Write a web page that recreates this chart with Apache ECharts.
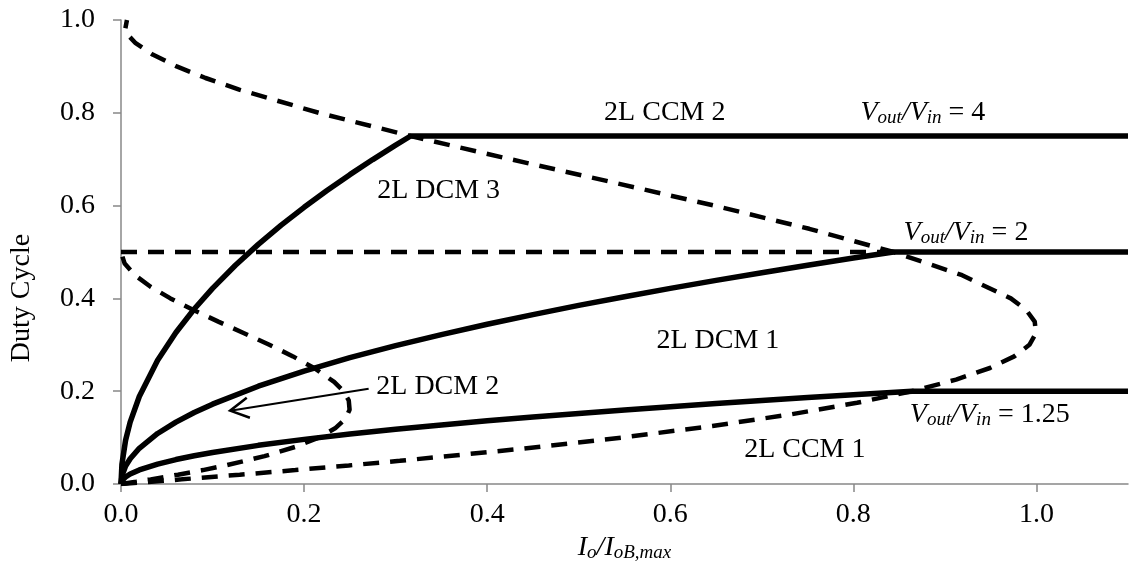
<!DOCTYPE html>
<html>
<head>
<meta charset="utf-8">
<script src="https://cdn.jsdelivr.net/npm/echarts@6/dist/echarts.min.js"></script>
<style>
html,body{margin:0;padding:0;background:#fff;}
#chart{width:1133px;height:569px;}
</style>
</head>
<body>
<div id="chart"></div>
<script>
// ---- data ----
const xTicks = [0, 0.2, 0.4, 0.6, 0.8, 1.0];
const yTicks = [0, 0.2, 0.4, 0.6, 0.8, 1.0];

// Large CCM/DCM boundary (dashed): duty cycle and normalized current
const boundaryD = [0, 0.005, 0.01, 0.02, 0.03, 0.04, 0.05, 0.075, 0.1, 0.125, 0.15, 0.175, 0.2, 0.225, 0.25, 0.275, 0.3, 0.325, 0.35, 0.375, 0.4, 0.45, 0.5, 0.55, 0.6, 0.65, 0.7, 0.75, 0.8, 0.85, 0.875, 0.9, 0.925, 0.95, 0.975, 1.0];
const boundaryI = [0, 0.0334, 0.0662, 0.1297, 0.1905, 0.2488, 0.3046, 0.4332, 0.5468, 0.646, 0.7315, 0.804, 0.864, 0.9122, 0.9492, 0.9757, 0.9923, 0.9995, 0.9981, 0.9888, 0.972, 0.9188, 0.8438, 0.7518, 0.648, 0.5375, 0.4253, 0.3164, 0.216, 0.1291, 0.0923, 0.0608, 0.0351, 0.016, 0.0041, 0.0065];

// Small DCM2 boundary (dashed)
const smallD = [0, 0.005, 0.01, 0.02, 0.03, 0.04, 0.06, 0.08, 0.1, 0.12, 0.14, 0.16, 0.18, 0.2, 0.22, 0.25, 0.275, 0.3, 0.325, 0.35, 0.375, 0.4, 0.425, 0.45, 0.475, 0.5];
const smallI = [0, 0.0165, 0.0324, 0.0622, 0.0895, 0.1143, 0.1568, 0.1905, 0.216, 0.2339, 0.2449, 0.2497, 0.2488, 0.243, 0.2328, 0.2109, 0.1879, 0.162, 0.1344, 0.1063, 0.0791, 0.054, 0.0323, 0.0152, 0.004, 0];

// Horizontal dashed line at D = 0.5
const halfI = [0, 0.8438];
const halfD = [0.5, 0.5];

// Vout/Vin = 4 (solid)
const m4I = [0, 0.001, 0.005, 0.01, 0.02, 0.04, 0.06, 0.08, 0.1, 0.125, 0.15, 0.175, 0.2, 0.225, 0.25, 0.275, 0.3, 0.3164, 1.1];
const m4D = [0, 0.0422, 0.0943, 0.1333, 0.1886, 0.2667, 0.3266, 0.3771, 0.4216, 0.4714, 0.5164, 0.5578, 0.5963, 0.6325, 0.6667, 0.6992, 0.7303, 0.75, 0.75];

// Vout/Vin = 2 (solid)
const m2I = [0, 0.001, 0.005, 0.01, 0.02, 0.04, 0.06, 0.08, 0.1, 0.15, 0.2, 0.25, 0.3, 0.35, 0.4, 0.45, 0.5, 0.55, 0.6, 0.65, 0.7, 0.75, 0.8, 0.8438, 1.1];
const m2D = [0, 0.0172, 0.0385, 0.0544, 0.077, 0.1089, 0.1333, 0.154, 0.1721, 0.2108, 0.2434, 0.2722, 0.2981, 0.322, 0.3443, 0.3651, 0.3849, 0.4037, 0.4216, 0.4389, 0.4554, 0.4714, 0.4869, 0.5, 0.5];

// Vout/Vin = 1.25 (solid)
const m125I = [0, 0.001, 0.005, 0.01, 0.02, 0.04, 0.06, 0.08, 0.1, 0.15, 0.2, 0.25, 0.3, 0.35, 0.4, 0.45, 0.5, 0.55, 0.6, 0.65, 0.7, 0.75, 0.8, 0.864, 1.1];
const m125D = [0, 0.0068, 0.0152, 0.0215, 0.0304, 0.043, 0.0527, 0.0609, 0.068, 0.0833, 0.0962, 0.1076, 0.1179, 0.1273, 0.1361, 0.1443, 0.1521, 0.1596, 0.1667, 0.1735, 0.18, 0.1863, 0.1925, 0.2, 0.2];

// Region / ratio annotations
const noteText = ['2L CCM 2', '2L DCM 3', 'ratio4', 'ratio2', '2L DCM 1', '2L DCM 2', 'ratio125', '2L CCM 1'];
const noteX = [0.594, 0.347, 0.876, 0.923, 0.652, 0.346, 0.949, 0.747];
const noteY = [0.80, 0.632, 0.80, 0.541, 0.31, 0.209, 0.149, 0.074];

// Arrow (from label to curve)
const arrowFrom = [0.2705, 0.2055];
const arrowTo = [0.1192, 0.158];

// ---- build ----
const FONT = 'Liberation Serif';
const zip = (xs, ys) => xs.map((v, i) => [v, ys[i]]);

const ratioRich = {
  v: {fontFamily: FONT, fontSize: 28, fontStyle: 'italic', color: '#000', lineHeight: 30},
  s: {fontFamily: FONT, fontSize: 19, fontStyle: 'italic', color: '#000', lineHeight: 14, verticalAlign: 'bottom'},
  n: {fontFamily: FONT, fontSize: 28, color: '#000', lineHeight: 30}
};
function noteFormatter(t) {
  if (t === 'ratio4') return '{v|V}{s|out}{v|/V}{s|in}{n| = 4}';
  if (t === 'ratio2') return '{v|V}{s|out}{v|/V}{s|in}{n| = 2}';
  if (t === 'ratio125') return '{v|V}{s|out}{v|/V}{s|in}{n| = 1.25}';
  return '{n|' + t + '}';
}

const dashedStyle = {color: '#000', width: 4.5, type: [16, 11]};
const solidStyle = {color: '#000', width: 5.5};

const lineSeries = (data, style) => ({
  type: 'line', data: data, showSymbol: false, symbol: 'none', smooth: false,
  lineStyle: style, silent: true, z: 2
});

const chart = echarts.init(document.getElementById('chart'), null, {renderer: 'canvas'});
chart.setOption({
  animation: false,
  backgroundColor: '#fff',
  grid: {left: 119, right: 5, top: 20, bottom: 85, containLabel: false},
  xAxis: {
    type: 'value', min: 0, max: 1.1,
    name: '{v|I}{s|o}{v|/I}{s|oB,max}',
    nameLocation: 'middle', nameGap: 48,
    nameTextStyle: {rich: ratioRich},
    axisLine: {show: true, lineStyle: {color: '#888', width: 1.5}},
    axisTick: {show: true, length: 8, lineStyle: {color: '#888', width: 1.5}, customValues: xTicks},
    axisLabel: {
      customValues: xTicks, margin: 17,
      fontFamily: FONT, fontSize: 28, color: '#000',
      formatter: v => v.toFixed(1)
    },
    splitLine: {show: false}
  },
  yAxis: {
    type: 'value', min: 0, max: 1.0, interval: 0.2,
    name: 'Duty Cycle', nameLocation: 'middle', nameGap: 85, nameRotate: 90,
    nameTextStyle: {fontFamily: FONT, fontSize: 28, color: '#000', padding: [0, 92, 0, 0]},
    axisLine: {show: true, lineStyle: {color: '#888', width: 1.5}},
    axisTick: {show: true, length: 8, lineStyle: {color: '#888', width: 1.5}, customValues: yTicks},
    axisLabel: {
      customValues: yTicks, margin: 26,
      fontFamily: FONT, fontSize: 28, color: '#000',
      formatter: v => v.toFixed(1)
    },
    splitLine: {show: false}
  },
  series: [
    lineSeries(zip(boundaryI, boundaryD), dashedStyle),
    lineSeries(zip(smallI, smallD), dashedStyle),
    lineSeries(zip(halfI, halfD), dashedStyle),
    lineSeries(zip(m4I, m4D), solidStyle),
    lineSeries(zip(m2I, m2D), solidStyle),
    lineSeries(zip(m125I, m125D), solidStyle),
    {
      type: 'custom', silent: true, z: 3,
      data: [[arrowFrom[0], arrowFrom[1], arrowTo[0], arrowTo[1]]],
      renderItem: function (params, api) {
        const a = api.coord([api.value(0), api.value(1)]);
        const b = api.coord([api.value(2), api.value(3)]);
        const ang = Math.atan2(a[1] - b[1], a[0] - b[0]);
        const L = 21, spread = 0.5;
        const p1 = [b[0] + L * Math.cos(ang + spread), b[1] + L * Math.sin(ang + spread)];
        const p2 = [b[0] + L * Math.cos(ang - spread), b[1] + L * Math.sin(ang - spread)];
        return {
          type: 'group',
          children: [
            {type: 'polyline', shape: {points: [a, b]}, style: {stroke: '#000', lineWidth: 2, fill: null}},
            {type: 'polyline', shape: {points: [p1, b, p2]}, style: {stroke: '#000', lineWidth: 2.5, fill: null}}
          ]
        };
      }
    },
    {
      type: 'scatter', silent: true, z: 4,
      symbolSize: 1, itemStyle: {color: 'rgba(0,0,0,0)'},
      data: noteText.map((t, i) => ({
        value: [noteX[i], noteY[i]],
        label: {
          show: true, position: 'inside', color: '#000', opacity: 1,
          textBorderWidth: 0, textShadowBlur: 0,
          formatter: noteFormatter(t), rich: ratioRich
        }
      }))
    }
  ]
});
</script>
</body>
</html>
